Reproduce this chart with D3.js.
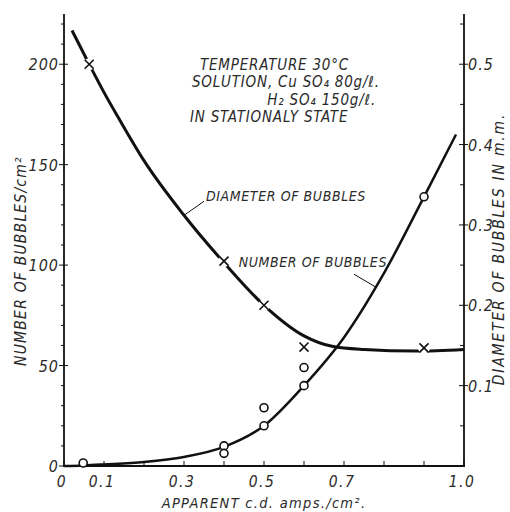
<!DOCTYPE html>
<html><head><meta charset="utf-8">
<script src="https://cdn.jsdelivr.net/npm/d3@7"></script>
<style>
body{margin:0;background:#fff;}
text{font-family:"Liberation Sans Narrow","DejaVu Sans Condensed",sans-serif;font-style:italic;fill:#2a2a2a;}
</style></head><body>
<svg id="c" width="510" height="512"></svg>
<script>
// ---- data ----
const xTickValues = [0,0.1,0.2,0.3,0.4,0.5,0.6,0.7,0.8,0.9,1.0];
const xTickLabels = ["0","0.1","","0.3","","0.5","","0.7","","","1.0"];
const leftMajor = [0,50,100,150,200];
const leftMinor = [10,20,30,40,60,70,80,90,110,120,130,140,160,170,180,190,210,220];
const rightMajor = [0.1,0.2,0.3,0.4,0.5];
const rightMinor = [0.05,0.15,0.25,0.35,0.45,0.55];

// number of bubbles (circles), left axis
const numPtsX = [0.048,0.4,0.4,0.5,0.5,0.6,0.6,0.9];
const numPtsY = [1.5,10,6.3,20,29,40,49,134];
// diameter of bubbles (crosses), right axis
const diamPtsX = [0.063,0.4,0.5,0.6,0.9];
const diamPtsY = [0.50,0.255,0.20,0.148,0.147];
const diamHalo = [true,true,true,false,true];

// fitted curves
const numCurveX = [0,0.05,0.1,0.2,0.3,0.4,0.5,0.6,0.7,0.8,0.9,0.98];
const numCurveY = [0,0.3,0.8,2,4.5,9.5,20,40,64,96,134,165];
const diamCurveX = [0.02,0.063,0.1,0.14,0.2,0.3,0.4,0.5,0.6,0.67,0.75,0.88,1.0];
const diamCurveY = [0.542,0.5,0.465,0.43,0.38,0.312,0.253,0.2,0.162,0.149,0.145,0.143,0.145];

const notes = ["TEMPERATURE  30°C","SOLUTION, Cu SO₄ 80g/ℓ.","H₂ SO₄ 150g/ℓ.","IN STATIONALY STATE"];

// ---- drawing ----
const svg = d3.select("#c");
const x = d3.scaleLinear().domain([0,1]).range([64,464]);
const yL = d3.scaleLinear().domain([0,225]).range([466,14]);
const yR = d3.scaleLinear().domain([0,0.5625]).range([466,14]);
const ink = "#111";

// axes lines
svg.append("line").attr("x1",x(0)).attr("x2",x(0)).attr("y1",yL(0)).attr("y2",yL(225)).attr("stroke",ink).attr("stroke-width",1.8);
svg.append("line").attr("x1",x(1)).attr("x2",x(1)).attr("y1",yR(0)).attr("y2",yR(0.5625)).attr("stroke",ink).attr("stroke-width",1.8);
svg.append("line").attr("x1",x(0)-1).attr("x2",x(1)+1).attr("y1",yL(0)).attr("y2",yL(0)).attr("stroke",ink).attr("stroke-width",2.2);

// bottom ticks
svg.selectAll(".xt").data(xTickValues).enter().append("line")
  .attr("x1",d=>x(d)).attr("x2",d=>x(d)).attr("y1",yL(0)).attr("y2",yL(0)-5)
  .attr("stroke",ink).attr("stroke-width",1);
svg.selectAll(".xl").data(xTickValues).enter().append("text")
  .attr("x",d=>x(d)-2).attr("y",487).attr("text-anchor","middle").attr("font-size",15.5).attr("letter-spacing",1.5)
  .text((d,i)=>xTickLabels[i]);

// left ticks
svg.selectAll(".lm").data(leftMajor).enter().append("line")
  .attr("x1",x(0)-5).attr("x2",x(0)+4).attr("y1",d=>yL(d)).attr("y2",d=>yL(d)).attr("stroke",ink).attr("stroke-width",1);
svg.selectAll(".ln").data(leftMinor).enter().append("line")
  .attr("x1",x(0)-3).attr("x2",x(0)).attr("y1",d=>yL(d)).attr("y2",d=>yL(d)).attr("stroke",ink).attr("stroke-width",1);
svg.selectAll(".ll").data(leftMajor).enter().append("text")
  .attr("x",x(0)-5).attr("y",d=>yL(d)+6).attr("text-anchor","end").attr("font-size",16).attr("letter-spacing",1)
  .text(d=>d);

// right ticks
svg.selectAll(".rm").data(rightMajor).enter().append("line")
  .attr("x1",x(1)-5).attr("x2",x(1)+4).attr("y1",d=>yR(d)).attr("y2",d=>yR(d)).attr("stroke",ink).attr("stroke-width",1);
svg.selectAll(".rn").data(rightMinor).enter().append("line")
  .attr("x1",x(1)-4).attr("x2",x(1)).attr("y1",d=>yR(d)).attr("y2",d=>yR(d)).attr("stroke",ink).attr("stroke-width",1);
svg.selectAll(".rl").data(rightMajor).enter().append("text")
  .attr("x",x(1)+4).attr("y",d=>yR(d)+6).attr("font-size",16).attr("letter-spacing",1).text(d=>d.toFixed(1));

// axis titles
svg.append("text").attr("transform",`translate(26,${yL(102)}) rotate(-90)`).attr("text-anchor","middle")
  .attr("font-size",15.5).attr("letter-spacing",1.2).text("NUMBER OF BUBBLES/cm²");
svg.append("text").attr("transform",`translate(504,${yR(0.27)}) rotate(-90)`).attr("text-anchor","middle")
  .attr("font-size",15.5).attr("letter-spacing",1.8).text("DIAMETER OF BUBBLES IN m.m.");
svg.append("text").attr("x",264).attr("y",508).attr("text-anchor","middle").attr("font-size",14.5).attr("letter-spacing",1.3)
  .text("APPARENT c.d.  amps./cm².");

// curves
const numLine = d3.line().x(d=>x(d[0])).y(d=>yL(d[1])).curve(d3.curveMonotoneX);
const diamLine = d3.line().x(d=>x(d[0])).y(d=>yR(d[1])).curve(d3.curveMonotoneX);
svg.append("path").attr("d",diamLine(d3.zip(diamCurveX,diamCurveY))).attr("fill","none").attr("stroke",ink).attr("stroke-width",3);
svg.append("path").attr("d",numLine(d3.zip(numCurveX,numCurveY))).attr("fill","none").attr("stroke",ink).attr("stroke-width",2.5);

// markers
const dpts = d3.zip(diamPtsX,diamPtsY,diamHalo);
svg.selectAll(".halo").data(dpts.filter(d=>d[2])).enter().append("circle")
  .attr("cx",d=>x(d[0])).attr("cy",d=>yR(d[1])).attr("r",6).attr("fill","#fff");
const cross = d3.symbol().type(d3.symbolX).size(55);
svg.selectAll(".dx").data(dpts).enter().append("path")
  .attr("d",cross).attr("transform",d=>`translate(${x(d[0])},${yR(d[1])})`)
  .attr("fill","none").attr("stroke",ink).attr("stroke-width",1.6);
svg.selectAll(".np").data(d3.zip(numPtsX,numPtsY)).enter().append("circle")
  .attr("cx",d=>x(d[0])).attr("cy",d=>yL(d[1])).attr("r",4).attr("fill","#fff").attr("stroke",ink).attr("stroke-width",1.6);

// annotations
const nt = svg.append("g").attr("font-size",15).attr("letter-spacing",0.8);
nt.append("text").attr("x",200).attr("y",70).text(notes[0]);
nt.append("text").attr("x",192).attr("y",87).text(notes[1]);
nt.append("text").attr("x",376).attr("y",105).attr("text-anchor","end").text(notes[2]);
nt.append("text").attr("x",190).attr("y",122).text(notes[3]);

// curve labels with leaders
const dEnd = [x(0.3), yR(0.312)];
svg.append("line").attr("x1",dEnd[0]).attr("y1",dEnd[1]).attr("x2",dEnd[0]+20).attr("y2",dEnd[1]-14).attr("stroke",ink).attr("stroke-width",1);
svg.append("text").attr("x",dEnd[0]+22).attr("y",dEnd[1]-14).attr("font-size",14).attr("letter-spacing",0.6).text("DIAMETER OF BUBBLES");
const nEnd = [x(0.78), yL(89)];
svg.append("line").attr("x1",nEnd[0]).attr("y1",nEnd[1]).attr("x2",nEnd[0]-22).attr("y2",nEnd[1]-13).attr("stroke",ink).attr("stroke-width",1);
svg.append("text").attr("x",387).attr("y",nEnd[1]-20).attr("text-anchor","end").attr("font-size",14).attr("letter-spacing",0.6).text("NUMBER OF BUBBLES");
</script></body></html>
